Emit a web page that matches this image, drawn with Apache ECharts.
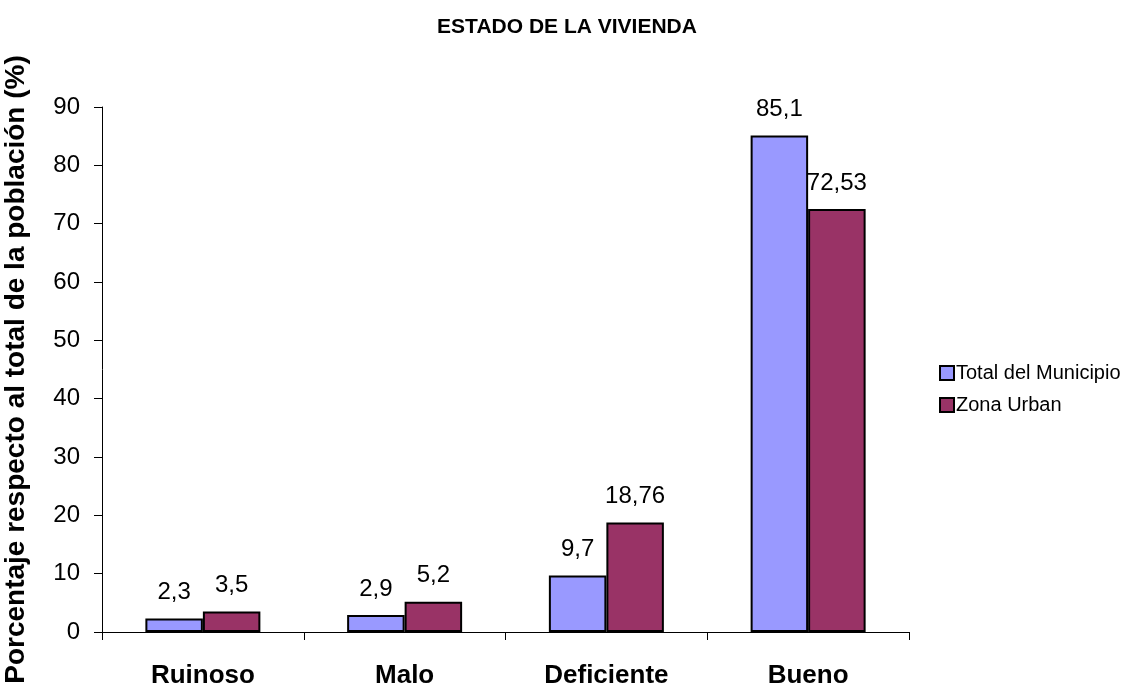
<!DOCTYPE html>
<html>
<head>
<meta charset="utf-8">
<script src="https://cdn.jsdelivr.net/npm/echarts@6/dist/echarts.min.js"></script>
<style>html,body{margin:0;padding:0;background:#fff}#c{width:1138px;height:693px}</style>
</head>
<body>
<div id="c"></div>
<script>
const categories = ['Ruinoso', 'Malo', 'Deficiente', 'Bueno'];
const totalMunicipio = [2.3, 2.9, 9.7, 85.1];
const zonaUrban = [3.5, 5.2, 18.76, 72.53];
const seriesNames = ['Total del Municipio', 'Zona Urban'];
const yTicks = [0, 10, 20, 30, 40, 50, 60, 70, 80, 90];

const fmt = v => String(v).replace('.', ',');
const font = '"Liberation Sans", Arial, sans-serif';
const chart = echarts.init(document.getElementById('c'));
chart.setOption({
  animation: false,
  textStyle: { fontFamily: font },
  title: {
    text: 'ESTADO DE LA VIVIENDA',
    left: 562, top: 12, textAlign: 'center',
    textStyle: { fontFamily: font, fontSize: 21, fontWeight: 'bold', color: '#000' }
  },
  legend: {
    orient: 'vertical', left: 934, top: 358, itemGap: 12,
    itemWidth: 14, itemHeight: 14,
    textStyle: { fontFamily: font, fontSize: 20, color: '#000', padding: [0, 0, 0, -3] },
    data: seriesNames.map(n => ({ name: n, icon: 'rect', itemStyle: { borderColor: '#000', borderWidth: 2 } }))
  },
  grid: { left: 102, right: 229, top: 107, bottom: 61, containLabel: false, outerBoundsMode: 'none' },
  xAxis: {
    type: 'category', data: categories,
    axisLine: { lineStyle: { color: '#000', width: 1 } },
    axisTick: { show: true, alignWithLabel: false, length: 8, inside: false, lineStyle: { color: '#000' } },
    axisLabel: { fontFamily: font, fontSize: 26, fontWeight: 'bold', color: '#000', margin: 31 }
  },
  yAxis: {
    type: 'value', min: 0, max: 90, interval: 10,
    name: 'Porcentaje respecto al total de la población (%)',
    nameLocation: 'middle', nameGap: 72, nameRotate: 90,
    nameTextStyle: { fontFamily: font, fontSize: 28, fontWeight: 'bold', color: '#000' },
    axisLine: { show: true, lineStyle: { color: '#000', width: 1 } },
    axisTick: { show: true, length: 8, lineStyle: { color: '#000' } },
    splitLine: { show: false },
    axisLabel: {
      fontFamily: font, fontSize: 24, color: '#000', margin: 22,
      formatter: v => yTicks.includes(v) ? String(v) : ''
    }
  },
  series: [
    {
      name: seriesNames[0], type: 'bar', data: totalMunicipio,
      barGap: '0%', barCategoryGap: '43%',
      itemStyle: { color: '#9999FF', borderColor: '#000', borderWidth: 2 },
      label: { show: true, position: 'top', distance: 14, fontFamily: font, fontSize: 24, color: '#000', formatter: p => fmt(p.value) }
    },
    {
      name: seriesNames[1], type: 'bar', data: zonaUrban,
      itemStyle: { color: '#993366', borderColor: '#000', borderWidth: 2 },
      label: { show: true, position: 'top', distance: 14, fontFamily: font, fontSize: 24, color: '#000', formatter: p => fmt(p.value) }
    }
  ]
});
</script>
</body>
</html>
